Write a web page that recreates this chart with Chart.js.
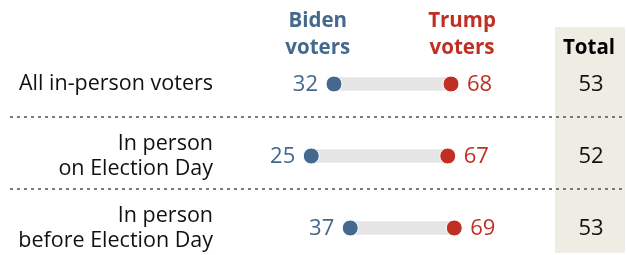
<!DOCTYPE html>
<html>
<head>
<meta charset="utf-8">
<script src="https://cdn.jsdelivr.net/npm/chart.js@4/dist/chart.umd.min.js"></script>
<style>
  html, body { margin: 0; padding: 0; background: #ffffff; }
  #wrap { width: 626px; height: 255px; position: relative; }
</style>
</head>
<body>
<div id="wrap"><canvas id="c" width="626" height="255"></canvas></div>
<script>
// ---- Data ----
const categories = ['All in-person voters', 'In person on Election Day', 'In person before Election Day'];
const categoryLines = [['All in-person voters'], ['In person', 'on Election Day'], ['In person', 'before Election Day']];
const bidenVoters = [32, 25, 37];
const trumpVoters = [68, 67, 69];
const totalValues = [53, 52, 53];
const seriesHeaders = { biden: ['Biden', 'voters'], trump: ['Trump', 'voters'], total: 'Total' };

// ---- Style ----
const BIDEN = '#44698d';
const TRUMP = '#bf2f24';
const FONT = '"Open Sans", "Liberation Sans", Arial, sans-serif';

const overlay = {
  id: 'overlay',
  beforeDatasetsDraw(chart) {
    const ctx = chart.ctx;
    const xs = chart.scales.x, ys = chart.scales.y;
    ctx.save();
    // Total column background
    const bgLeft = xs.getPixelForValue(100);
    ctx.fillStyle = '#eeede3';
    ctx.fillRect(bgLeft, 27, chart.width - 1 - bgLeft, 226);
    // dotted separators
    ctx.strokeStyle = '#7a7a7a';
    ctx.lineWidth = 2;
    ctx.setLineDash([3, 4]);
    for (let i = 0; i < categories.length - 1; i++) {
      const y = Math.round((ys.getPixelForValue(i) + ys.getPixelForValue(i + 1)) / 2) - 3;
      ctx.beginPath();
      ctx.moveTo(10, y);
      ctx.lineTo(chart.width, y);
      ctx.stroke();
    }
    ctx.restore();
  },
  afterDatasetsDraw(chart) {
    const ctx = chart.ctx;
    const xs = chart.scales.x, ys = chart.scales.y;
    const ca = chart.chartArea;
    ctx.save();
    ctx.textBaseline = 'middle';
    // value labels
    ctx.font = '22px ' + FONT;
    for (let i = 0; i < categories.length; i++) {
      const y = ys.getPixelForValue(i) + 1;
      ctx.fillStyle = BIDEN;
      ctx.textAlign = 'right';
      ctx.fillText(String(bidenVoters[i]), xs.getPixelForValue(bidenVoters[i]) - 16, y);
      ctx.fillStyle = TRUMP;
      ctx.textAlign = 'left';
      ctx.fillText(String(trumpVoters[i]), xs.getPixelForValue(trumpVoters[i]) + 16, y);
      // totals
      ctx.fillStyle = '#111111';
      ctx.textAlign = 'center';
      ctx.fillText(String(totalValues[i]), ca.right + 36, y);
    }
    // category labels
    ctx.font = '21.5px ' + FONT;
    ctx.fillStyle = '#111111';
    ctx.textAlign = 'right';
    for (let i = 0; i < categories.length; i++) {
      const y = ys.getPixelForValue(i);
      const lines = categoryLines[i];
      const lh = 25;
      const start = y - (lines.length - 1) * lh / 2;
      lines.forEach((t, k) => ctx.fillText(t, ca.left - 17, start + k * lh));
    }
    // headers
    ctx.font = 'bold 20.5px ' + FONT;
    ctx.textAlign = 'center';
    ctx.fillStyle = BIDEN;
    seriesHeaders.biden.forEach((t, k) => ctx.fillText(t, xs.getPixelForValue(27), 21 + k * 27));
    ctx.fillStyle = TRUMP;
    seriesHeaders.trump.forEach((t, k) => ctx.fillText(t, xs.getPixelForValue(71.4), 21 + k * 27));
    ctx.fillStyle = '#000000';
    ctx.fillText(seriesHeaders.total, ca.right + 34, 48);
    ctx.restore();
  }
};

new Chart(document.getElementById('c'), {
  data: {
    labels: categories,
    datasets: [
      {
        type: 'scatter',
        label: 'Biden voters',
        data: bidenVoters.map((v, i) => ({ x: v, y: categories[i] })),
        backgroundColor: BIDEN,
        borderColor: '#ffffff',
        borderWidth: 1,
        pointRadius: 8,
        pointHoverRadius: 8,
        clip: false,
        order: 1
      },
      {
        type: 'scatter',
        label: 'Trump voters',
        data: trumpVoters.map((v, i) => ({ x: v, y: categories[i] })),
        backgroundColor: TRUMP,
        borderColor: '#ffffff',
        borderWidth: 1,
        pointRadius: 8,
        pointHoverRadius: 8,
        clip: false,
        order: 1
      },
      {
        type: 'bar',
        label: 'Range',
        indexAxis: 'y',
        data: bidenVoters.map((v, i) => [v, trumpVoters[i]]),
        backgroundColor: '#e5e5e5',
        barThickness: 13,
        borderSkipped: false,
        clip: false,
        order: 3
      }
    ]
  },
  options: {
    responsive: false,
    animation: false,
    devicePixelRatio: 1,
    layout: { padding: { left: 230, right: 71, top: 84, bottom: 27 } },
    scales: {
      x: { type: 'linear', min: 0, max: 100, display: false },
      y: { type: 'category', labels: categories, offset: false, display: false }
    },
    plugins: { legend: { display: false }, tooltip: { enabled: false } }
  },
  plugins: [overlay]
});
</script>
</body>
</html>
